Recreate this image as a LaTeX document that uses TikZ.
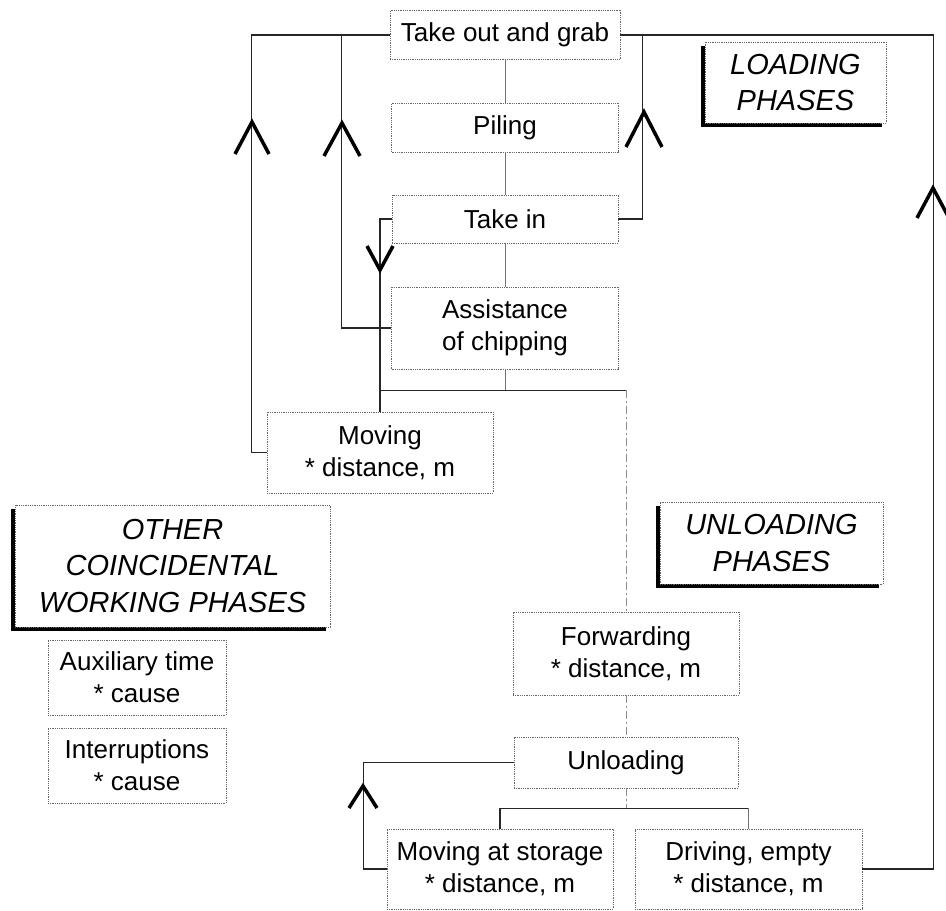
\documentclass[tikz,border=0pt]{standalone}
\usepackage{fontspec}
\setmainfont{Liberation Sans}
\usetikzlibrary{shadows}
\newcommand\boxfont{\fontsize{26}{32}\selectfont}
\newcommand\hdrfont{\fontsize{29}{36.5}\selectfont\itshape}
\begin{document}
\begin{tikzpicture}[
  x=1pt, y=-1pt,
  box/.style={draw=black!60, densely dotted, line width=0.8pt, fill=white,
    align=center, inner sep=0pt, font=\boxfont},
  hdr/.style={draw=black!60, densely dotted, line width=0.8pt, fill=white,
    align=center, inner sep=0pt, font=\hdrfont,
    drop shadow={shadow xshift=-4pt, shadow yshift=-4pt, fill=black, opacity=1}},
  conn/.style={draw=black!85, line width=1.1pt},
  spine/.style={draw=black!55, line width=0.9pt},
  dashconn/.style={draw=black!45, line width=1pt, dash pattern=on 8pt off 3pt on 2pt off 3pt},
  chevline/.style={draw=black, line width=3.5pt, line join=miter},
  pics/chev/.style n args={2}{code={\draw[chevline] (-#1,#2) -- (0,0) -- (#1,#2);}}
]
\useasboundingbox (0,0) rectangle (946,911);

% loading phases
\node[box, minimum width=230, minimum height=49] (grab) at (505,35) {Take out and grab};
\node[box, minimum width=227, minimum height=49] (piling) at (505,127.5) {Piling};
\node[box, minimum width=226, minimum height=48] (takein) at (505,219) {Take in};
\node[box, minimum width=227, minimum height=82] (assist) at (505,328) {Assistance\\of chipping};
\node[box, minimum width=226, minimum height=81] (moving) at (380,452.5) {Moving\\* distance, m};

% unloading phases
\node[box, minimum width=226, minimum height=83] (forward) at (626,653.5) {Forwarding\\* distance, m};
\node[box, minimum width=224, minimum height=51] (unload) at (626,762.5) {Unloading};
\node[box, minimum width=226, minimum height=80] (mstore) at (500,869) {Moving at storage\\* distance, m};
\node[box, minimum width=227, minimum height=80] (drive) at (748.5,869) {Driving, empty\\* distance, m};

% other coincidental phases
\node[box, minimum width=178, minimum height=75] (aux) at (137,677.5) {Auxiliary time\\* cause};
\node[box, minimum width=178, minimum height=75] (interr) at (137,765.5) {Interruptions\\* cause};

% group headings
\node[hdr, minimum width=181, minimum height=81] (loadhdr) at (795.5,82.5) {LOADING\\PHASES};
\node[hdr, minimum width=315, minimum height=122] (otherhdr) at (172.5,566) {OTHER\\COINCIDENTAL\\WORKING PHASES};
\node[hdr, minimum width=223, minimum height=82] (unloadhdr) at (771.5,543) {UNLOADING\\PHASES};

% main sequence
\draw[spine] (grab.south) -- (piling.north);
\draw[spine] (piling.south) -- (takein.north);
\draw[spine] (takein.south) -- (assist.north);
\draw[spine] (assist.south) -- ++(0,21) coordinate (split);
\draw[conn] (moving.north |- split) -- (forward.north |- split);
\draw[dashconn] (forward.north |- split) -- (forward.north);
\draw[dashconn] (forward.south) -- (unload.north);
\draw[dashconn] (unload.south) -- ++(0,20) coordinate (split2);
\draw[conn] (mstore.north |- split2) -- (drive.north |- split2);
\draw[conn] (mstore.north |- split2) -- (mstore.north);
\draw[spine] (drive.north |- split2) -- (drive.north);

% return loops
\draw[conn] (grab.west) -- ++(-138,0) |- (moving.west);
\draw[conn] (grab.west) -- ++(-48,0) |- (assist.west);
\draw[conn] (grab.east) -- ++(313,0) |- (drive.east);
\draw[conn] (takein.east) -- ++(24,0) |- (grab.east);
\draw[conn] (takein.west) -| (moving.north);
\draw[conn] (unload.west) -- ++(-150,0) |- (mstore.west);

% direction marks
\coordinate (c1) at (252,122);
\coordinate (c2) at (342,123);
\coordinate (c3) at (644,112);
\coordinate (c4) at (933,188);
\coordinate (c5) at (380,270);
\coordinate (c6) at (363,786);
\pic at (c1) {chev={17}{32}};
\pic at (c2) {chev={18}{33}};
\pic at (c3) {chev={18}{35}};
\pic at (c4) {chev={16}{30}};
\pic at (c5) {chev={13}{-24}};
\pic at (c6) {chev={14}{22}};
\end{tikzpicture}
\end{document}
